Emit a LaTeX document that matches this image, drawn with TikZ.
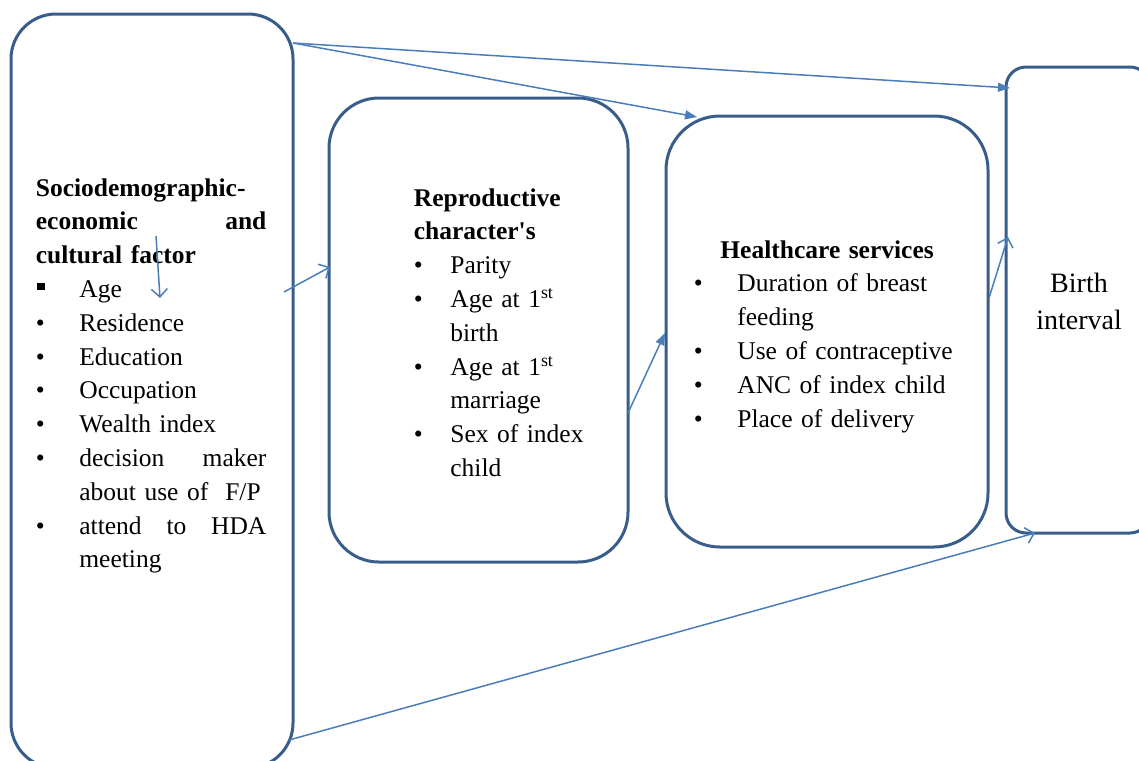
\documentclass[tikz,border=0pt]{standalone}
\usepackage{fontspec}
\setmainfont{Liberation Serif}
\usetikzlibrary{arrows.meta}
\definecolor{boxc}{RGB}{56,93,138}
\definecolor{arrc}{RGB}{74,126,187}
\newcommand{\bul}[1]{\makebox[#1][l]{\textbullet}}
\tikzset{
  box/.style={draw=boxc, line width=1.5pt, rounded corners=#1, inner sep=0pt},
  txt/.style={inner sep=0pt, align=left, font=\fontsize{12.75}{16.9}\selectfont, anchor=north west},
  conn/.style={draw=arrc, line width=0.75pt},
  fil/.style={conn, -{Triangle[length=6pt,width=4.5pt]}},
  opn/.style={conn, -{Straight Barb[length=4pt,width=8pt]}},
}
\begin{document}
\begin{tikzpicture}[x=0.5pt,y=-0.5pt]
\useasboundingbox (0,0) rectangle (1139,760);
\clip (0,0) rectangle (1139,760);
% boxes
\node[box=22.5pt, minimum width=141pt, minimum height=377pt] (b1) at (152,391) {};
\node[box=25pt, minimum width=149.5pt, minimum height=232pt] (b2) at (478.5,330) {};
\node[box=27pt, minimum width=161pt, minimum height=215.5pt] (b3) at (827,331.5) {};
\node[box=10pt, minimum width=72pt, minimum height=233pt] (b4) at (1078,300) {};
% texts
\node[txt, text width=115.25pt] (t1) at (35.5,178) {%
\textbf{Sociodemographic-}\\
\textbf{economic\hfill and}\\
\textbf{cultural factor}\\
\makebox[21.75pt][l]{\hspace{0.75pt}\rule[3.5pt]{3.75pt}{3.75pt}}Age\\
\bul{21.75pt}Residence\\
\bul{21.75pt}Education\\
\bul{21.75pt}Occupation\\
\bul{21.75pt}Wealth index\\
\bul{21.75pt}decision\hfill maker\\
\hspace*{21.75pt}about use of\ \ F/P\\
\bul{21.75pt}attend\hfill to\hfill HDA\\
\hspace*{21.75pt}meeting};
\node[txt, text width=110pt] (t2) at (413.5,188) {%
\textbf{Reproductive}\\
\textbf{character\textquotesingle s}\\
\bul{18.25pt}Parity\\
\bul{18.25pt}Age at 1\textsuperscript{st}\\
\hspace*{18.25pt}birth\\
\bul{18.25pt}Age at 1\textsuperscript{st}\\
\hspace*{18.25pt}marriage\\
\bul{18.25pt}Sex of index\\
\hspace*{18.25pt}child};
\node[txt, text width=140pt] (t3) at (693.5,240) {%
\hspace*{13.25pt}\textbf{Healthcare services}\\
\bul{21.75pt}Duration of breast\\
\hspace*{21.75pt}feeding\\
\bul{21.75pt}Use of contraceptive\\
\bul{21.75pt}ANC of index child\\
\bul{21.75pt}Place of delivery};
\node[inner sep=0pt, align=center, font=\fontsize{14}{18.5}\selectfont] (t4) at (1079,301) {Birth\\interval};
% connector end points
\coordinate (s1) at (293,43);
\coordinate (e1) at (1010,88);
\coordinate (e2) at (697,117);
\coordinate (s3) at (156,236);
\coordinate (e3) at (160,298);
\coordinate (s4) at (284,292);
\coordinate (e4) at (330,267);
\coordinate (s5) at (628,413);
\coordinate (e5) at (665,333);
\coordinate (s6) at (989,298);
\coordinate (e6) at (1008,237);
\coordinate (s7) at (289,740);
\coordinate (e7) at (1035,533);
% connectors
\draw[fil] (s1) -- (e1);
\draw[fil] (s1) -- (e2);
\draw[opn] (s3) -- (e3);
\draw[opn] (s4) -- (e4);
\draw[fil] (s5) -- (e5);
\draw[opn] (s6) -- (e6);
\draw[opn] (s7) -- (e7);
\end{tikzpicture}
\end{document}
